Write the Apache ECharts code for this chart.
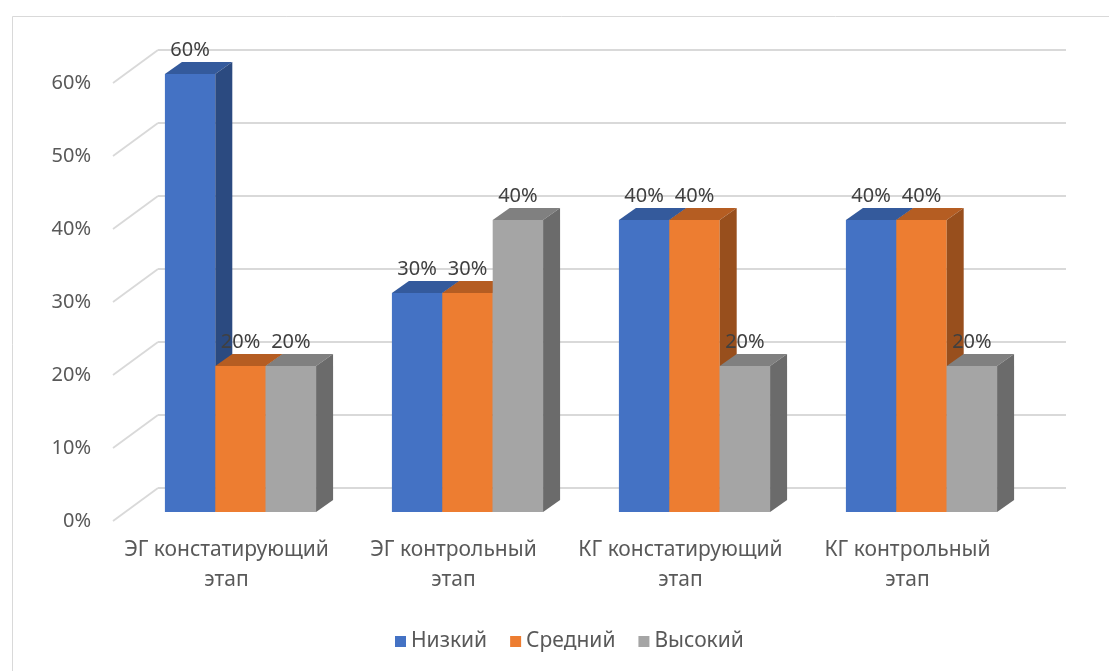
<!DOCTYPE html>
<html>
<head>
<meta charset="utf-8">
<script src="https://cdn.jsdelivr.net/npm/echarts@6/dist/echarts.min.js"></script>
<style>
  html, body { margin: 0; padding: 0; background: #fff; }
  #main { width: 1109px; height: 671px; }
</style>
</head>
<body>
<div id="main"></div>
<script>
var categories = ['ЭГ констатирующий этап', 'ЭГ контрольный этап', 'КГ констатирующий этап', 'КГ контрольный этап']
var seriesNames = ['Низкий', 'Средний', 'Высокий']
var low = [0.6, 0.3, 0.4, 0.4]
var mid = [0.2, 0.3, 0.4, 0.4]
var high = [0.2, 0.4, 0.2, 0.2]
var ticks = [0, 0.1, 0.2, 0.3, 0.4, 0.5, 0.6]

// цвета граней: лицевая, верх, бок
var frontColors = ['#4472c4', '#ed7d31', '#a5a5a5']
var topColors = ['#345a9c', '#b55d22', '#808080']
var sideColors = ['#2b4a80', '#984f1d', '#6b6b6b']

var FONT = '"Noto Sans", sans-serif'
var WALL_DX = 45, WALL_DY = -33   // глубина задней стенки
var BAR_SX = 14, BAR_SY = -9       // сдвиг столбцов вглубь
var BAR_DX = 17, BAR_DY = -12      // толщина столбца

function pct(v) {
  return Math.round(v * 100) + '%'
}

// сетка: диагонали на полу + линии на задней стенке
function gridRender(params, api) {
  var p = api.coord([0, api.value(1)])
  var cs = params.coordSys
  var fx = cs.x, fy = p[1]
  var style = { stroke: '#d9d9d9', lineWidth: 1.8 }
  return {
    type: 'group',
    children: [
      { type: 'line', shape: { x1: fx, y1: fy, x2: fx + WALL_DX, y2: fy + WALL_DY }, style: style },
      { type: 'line', shape: { x1: fx + WALL_DX, y1: fy + WALL_DY, x2: fx + cs.width + WALL_DX, y2: fy + WALL_DY }, style: style }
    ]
  }
}

function barRender(s) {
  return function (params, api) {
    var idx = api.value(0)
    var val = api.value(1)
    var base = api.coord([idx, 0])
    var top = api.coord([idx, val])
    var w = api.size([1, 0])[0] * 0.222
    var x0 = base[0] + BAR_SX - 1.5 * w + s * w
    var yb = base[1] + BAR_SY
    var yt = top[1] + BAR_SY
    return {
      type: 'group',
      children: [
        { type: 'rect', shape: { x: x0, y: yt, width: w, height: yb - yt }, style: { fill: frontColors[s] } },
        { type: 'polygon', shape: { points: [[x0, yt], [x0 + BAR_DX, yt + BAR_DY], [x0 + w + BAR_DX, yt + BAR_DY], [x0 + w, yt]] }, style: { fill: topColors[s] } },
        { type: 'polygon', shape: { points: [[x0 + w, yt], [x0 + w + BAR_DX, yt + BAR_DY], [x0 + w + BAR_DX, yb + BAR_DY], [x0 + w, yb]] }, style: { fill: sideColors[s] } },
        { type: 'text', z2: 10, style: { text: pct(val), x: x0 + w / 2, y: yt - 24, align: 'center', verticalAlign: 'middle', fontSize: 20, fontFamily: FONT, fill: '#404040' } }
      ]
    }
  }
}

var values = [low, mid, high]
var series = [{
  type: 'custom',
  name: 'grid',
  silent: true,
  z: 1,
  renderItem: gridRender,
  encode: { x: 0, y: 1 },
  data: ticks.map(function (v) { return [0, v] })
}]
for (var s = 0; s < 3; s++) {
  series.push({
    type: 'custom',
    name: seriesNames[s],
    z: 2,
    itemStyle: { color: frontColors[s] },
    renderItem: barRender(s),
    encode: { x: 0, y: 1 },
    data: values[s].map(function (v, i) { return [i, v] })
  })
}

var chart = echarts.init(document.getElementById('main'))
chart.setOption({
  backgroundColor: '#fff',
  animation: false,
  textStyle: { fontFamily: FONT },
  graphic: [{
    type: 'rect',
    left: 10,
    top: 14,
    shape: { width: 1200, height: 700 },
    style: { fill: 'none', stroke: '#d9d9d9', lineWidth: 1 }
  }],
  grid: {
    left: 113,
    right: 88,
    top: 83,
    bottom: 150
  },
  xAxis: {
    type: 'category',
    data: categories,
    axisLine: { show: false },
    axisTick: { show: false },
    splitLine: { show: false },
    axisLabel: {
      interval: 0,
      margin: 14,
      fontSize: 21,
      lineHeight: 30,
      color: '#595959',
      fontFamily: FONT,
      formatter: function (v) { return v.replace(' этап', '\nэтап') }
    }
  },
  yAxis: {
    type: 'value',
    min: 0,
    max: 0.6,
    interval: 0.1,
    axisLine: { show: false },
    axisTick: { show: false },
    splitLine: { show: false },
    axisLabel: {
      margin: 22,
      fontSize: 20,
      color: '#595959',
      fontFamily: FONT,
      formatter: pct
    }
  },
  legend: {
    data: seriesNames.map(function (n, i) {
      return { name: n, icon: 'rect', itemStyle: { color: frontColors[i] } }
    }),
    left: 390,
    top: 626,
    itemWidth: 11,
    itemHeight: 11,
    itemGap: 23,
    textStyle: { fontSize: 21, color: '#595959', fontFamily: FONT }
  },
  series: series
})
</script>
</body>
</html>
